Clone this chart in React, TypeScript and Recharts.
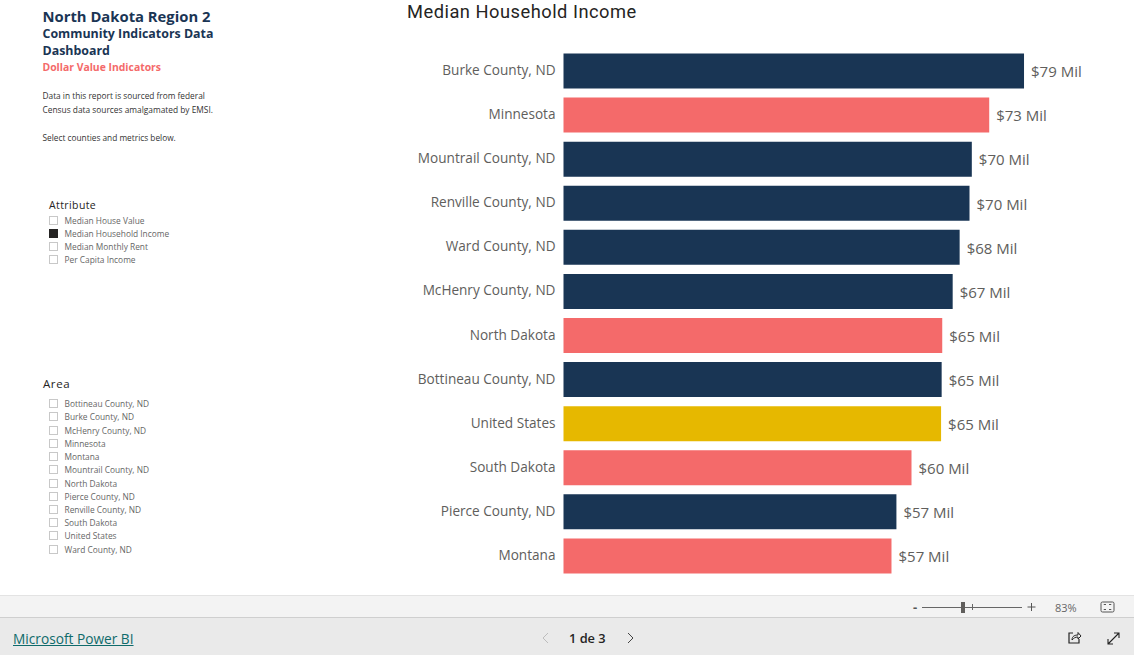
import React from "react";
import { BarChart, Bar, XAxis, YAxis, Cell, LabelList } from "recharts";

const categories = ["Burke County, ND", "Minnesota", "Mountrail County, ND", "Renville County, ND", "Ward County, ND", "McHenry County, ND", "North Dakota", "Bottineau County, ND", "United States", "South Dakota", "Pierce County, ND", "Montana"];
const values = [79.4, 73.4, 70.4, 70.0, 68.3, 67.1, 65.3, 65.2, 65.1, 60.0, 57.4, 56.55];
const groups = ["county", "state", "county", "county", "county", "county", "state", "county", "nation", "state", "county", "state"];
const attributes = ["Median House Value", "Median Household Income", "Median Monthly Rent", "Per Capita Income"];
const attributeY = [220, 233, 246, 259];
const areas = ["Bottineau County, ND", "Burke County, ND", "McHenry County, ND", "Minnesota", "Montana", "Mountrail County, ND", "North Dakota", "Pierce County, ND", "Renville County, ND", "South Dakota", "United States", "Ward County, ND"];
const areaY = [403, 416, 430, 443, 456, 469, 483, 496, 509, 522, 535, 549];

const palette: Record<string, string> = { county: "#193554", state: "#F46A6A", nation: "#E6B800" };
const rows = categories.map((name, i) => ({ name, value: values[i], group: groups[i] }));
const ui = '"Open Sans", "Noto Sans", sans-serif';

const T = ({ x, y, size, color, weight, children, font, spacing }: any) => (
  <div style={{ position: "absolute", left: x, top: y, transform: "translateY(-50%)", fontSize: size, color, fontWeight: weight || 400, fontFamily: font || ui, letterSpacing: spacing || 0, whiteSpace: "nowrap", lineHeight: 1 }}>{children}</div>
);

const Check = ({ y, label, on }: any) => (
  <>
    <div style={{ position: "absolute", left: 49, top: y - 4, width: 9, height: 9, boxSizing: "border-box", border: on ? "none" : "1px solid #C8C8C8", background: on ? "#252423" : "#fff" }} />
    <T x={64.5} y={y + 0.8} size={8.35} color="#666">{label}</T>
  </>
);

const CategoryTick = ({ x, y, payload }: any) => (
  <text x={x} y={y + 4.5} textAnchor="end" fill="#605E5C" fontSize={13.6} fontFamily={ui}>{payload.value}</text>
);

export default function App() {
  return (
    <div style={{ position: "fixed", left: 0, top: 0, width: 1134, height: 655, background: "#fff", overflow: "hidden" }}>
      <T x={42.5} y={15.5} size={14.8} color="#1A3554" weight={700}>North Dakota Region 2</T>
      <T x={42.5} y={34} size={12.4} color="#1A3554" weight={700}>Community Indicators Data</T>
      <T x={42.5} y={51} size={12.4} color="#1A3554" weight={700}>Dashboard</T>
      <T x={42.5} y={67} size={10.4} color="#F46A6A" weight={700}>Dollar Value Indicators</T>
      <T x={42.5} y={96} size={8.3} color="#333">Data in this report is sourced from federal</T>
      <T x={42.5} y={110} size={8.35} color="#333">Census data sources amalgamated by EMSI.</T>
      <T x={42.5} y={138} size={8.3} color="#333">Select counties and metrics below.</T>

      <T x={49} y={205} size={10.5} color="#252423" spacing={0.4}>Attribute</T>
      {attributes.map((a, i) => <Check key={a} y={attributeY[i]} label={a} on={a === "Median Household Income"} />)}
      <T x={43} y={384} size={11.5} color="#252423" spacing={0.6}>Area</T>
      {areas.map((a, i) => <Check key={a} y={areaY[i]} label={a} />)}

      <T x={407} y={12} size={18.3} color="#252423" font="Roboto" spacing={0.5}>Median Household Income</T>

      <div style={{ position: "absolute", left: 0, top: 0 }}>
        <BarChart width={1134} height={655} layout="vertical" data={rows} barCategoryGap={0} margin={{ top: 48.5, bottom: 77.5, left: 0.5, right: 48.5 }}>
          <XAxis type="number" domain={[0, 90]} hide />
          <YAxis type="category" dataKey="name" width={563} interval={0} axisLine={false} tickLine={false} tickSize={0} tickMargin={8} tick={<CategoryTick />} />
          <Bar dataKey="value" barSize={35} isAnimationActive={false}>
            {rows.map((r) => <Cell key={r.name} fill={palette[r.group]} />)}
            <LabelList dataKey="value" position="right" offset={7} formatter={(v: any) => `$${Math.round(v)} Mil`} style={{ fill: "#605E5C", fontSize: 15, fontFamily: ui, transform: "translateY(1px)" }} />
          </Bar>
        </BarChart>
      </div>

      <div style={{ position: "absolute", left: 0, top: 595, width: 1134, height: 23, boxSizing: "border-box", background: "#F3F3F3", borderTop: "1px solid #E3E3E3", borderBottom: "1px solid #CFCFCF" }} />
      <div style={{ position: "absolute", left: 0, top: 618, width: 1134, height: 37, background: "#EAEAEA" }} />

      <T x={913} y={607} size={13} color="#555" weight={700}>-</T>
      <div style={{ position: "absolute", left: 922, top: 607, width: 100, height: 1, background: "#666" }} />
      <div style={{ position: "absolute", left: 961, top: 602, width: 4, height: 11, background: "#605E5C" }} />
      <div style={{ position: "absolute", left: 972, top: 604, width: 1, height: 6, background: "#666" }} />
      <svg style={{ position: "absolute", left: 1027, top: 602 }} width={9} height={10}>
        <path d="M0.5 5h8M4.5 1v8" stroke="#555" fill="none" />
      </svg>
      <T x={1055} y={607} size={11} color="#666">83%</T>
      <svg style={{ position: "absolute", left: 1100, top: 601 }} width={16} height={12}>
        <rect x={1} y={1} width={13} height={10} rx={1.5} fill="none" stroke="#555" />
        <path d="M4 4v-0.5h2M11 4v-0.5h-2M4 8v0.5h2M11 8v0.5h-2" fill="none" stroke="#555" />
      </svg>

      <div style={{ position: "absolute", left: 13, top: 631, fontSize: 13.7, lineHeight: "16px", fontFamily: ui, color: "#0F6B6B", textDecoration: "underline", whiteSpace: "nowrap" }}>Microsoft Power BI</div>
      <svg style={{ position: "absolute", left: 540, top: 631 }} width={12} height={14}>
        <path d="M8 2L3 7l5 5" fill="none" stroke="#BDBDBD" />
      </svg>
      <T x={569} y={638} size={12.8} color="#252423" weight={600}>1 de 3</T>
      <svg style={{ position: "absolute", left: 625, top: 631 }} width={12} height={14}>
        <path d="M3 2l5 5-5 5" fill="none" stroke="#444" />
      </svg>
      <svg style={{ position: "absolute", left: 1067, top: 630 }} width={15} height={15}>
        <path d="M6 3H2v10h10V9" fill="none" stroke="#222" strokeWidth={1.2} />
        <path d="M5 10c0-4 3-5 6-5V2.5l3 3.5-3 3V7c-3 0-4 1-6 3z" fill="none" stroke="#222" />
      </svg>
      <svg style={{ position: "absolute", left: 1106, top: 631 }} width={15} height={15}>
        <path d="M2 13L13 2M8 2h5v5M2 8v5h5" fill="none" stroke="#222" strokeWidth={1.1} />
      </svg>
    </div>
  );
}
